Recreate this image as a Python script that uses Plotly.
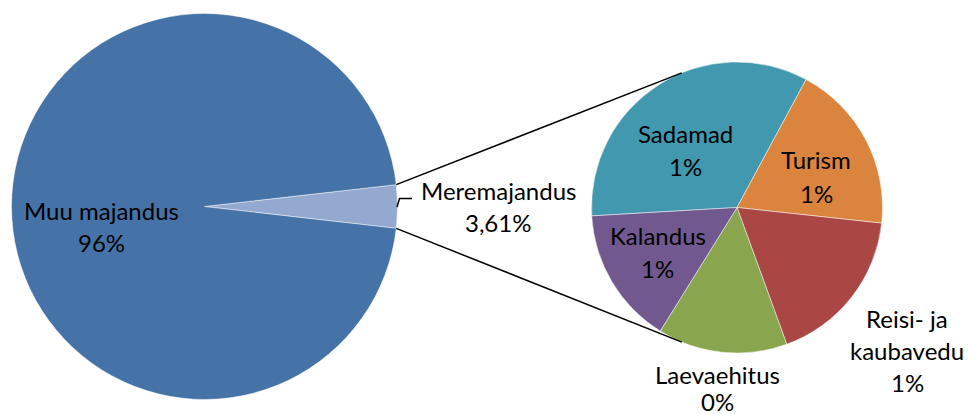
import math
import plotly.graph_objects as go

# ---- data ----
main_labels = ["Meremajandus", "Muu majandus"]
main_values = [3.61, 96.39]
main_text = ["3,61%", "96%"]

sub_labels = ["Sadamad", "Turism", "Reisi- ja<br>kaubavedu", "Laevaehitus", "Kalandus"]
sub_values = [1.22, 0.68, 0.64, 0.52, 0.55]
sub_text = ["1%", "1%", "1%", "0%", "1%"]

# ---- styles ----
main_colors = ["#93A9D0", "#4572A7"]
sub_colors = ["#4198AF", "#DB843D", "#AA4643", "#89A54E", "#71588F"]
W, H = 969, 414
FONT = "Lato"
FS = 24

# pie geometry in pixels
big_c, big_r = (204.5, 206.5), 193.0
small_c, small_r = (737.0, 207.5), 145.5

def dom(c, r):
    return dict(x=[(c[0] - r) / W, (c[0] + r) / W],
                y=[1 - (c[1] + r) / H, 1 - (c[1] - r) / H])

sea_angle = main_values[0] / sum(main_values) * 360.0
big_rot = 90 - sea_angle / 2

fig = go.Figure()
fig.add_trace(go.Pie(
    labels=main_labels, values=main_values, sort=False, direction="clockwise",
    rotation=big_rot, textinfo="none", hoverinfo="label+text", text=main_text,
    marker=dict(colors=main_colors, line=dict(color="rgba(255,255,255,0.6)", width=0.8)),
    domain=dom(big_c, big_r), showlegend=False))
fig.add_trace(go.Pie(
    labels=sub_labels, values=sub_values, sort=False, direction="clockwise",
    rotation=266.7, textinfo="none", hoverinfo="label+text", text=sub_text,
    marker=dict(colors=sub_colors, line=dict(color="rgba(255,255,255,0.6)", width=0.8)),
    domain=dom(small_c, small_r), showlegend=False))

def P(x, y):
    return x / W, 1 - y / H

# connector lines
half = math.radians(sea_angle / 2)
conn = math.radians(22.3)
shapes = []
for s in (-1, 1):
    x0 = big_c[0] + big_r * math.cos(half)
    y0 = big_c[1] + s * big_r * math.sin(half)
    x1 = small_c[0] - small_r * math.sin(conn)
    y1 = small_c[1] + s * small_r * math.cos(conn)
    a, b = P(x0, y0)
    c, d = P(x1, y1)
    shapes.append(dict(type="line", xref="paper", yref="paper", x0=a, y0=b, x1=c, y1=d,
                       line=dict(color="black", width=1.5)))
# leader for Meremajandus label
pts = [P(397, 207), P(399.5, 198.5), P(412, 198.5)]
path = "M {} {} L {} {} L {} {}".format(pts[0][0], pts[0][1], pts[1][0], pts[1][1], pts[2][0], pts[2][1])
shapes.append(dict(type="path", xref="paper", yref="paper", path=path,
                   line=dict(color="black", width=1.5)))

# label annotations: (text lines, center x px, first-line center y px, line step px)
labels = [
    (["Muu majandus", main_text[1]], 101, 210, 32),
    (["Meremajandus", main_text[0]], 498, 190, 33),
    (["Sadamad", sub_text[0]], 685.5, 133, 33),
    (["Turism", sub_text[1]], 816, 160, 33),
    (["Kalandus", sub_text[4]], 657.5, 235, 33),
    (["Reisi- ja", "kaubavedu", sub_text[2]], 907, 318, 32),
    (["Laevaehitus", sub_text[3]], 717.5, 374, 27),
]
annotations = []
for lines, cx, cy, step in labels:
    for i, t in enumerate(lines):
        x, y = P(cx, cy + i * step)
        annotations.append(dict(text=t, x=x, y=y, xref="paper", yref="paper",
                                xanchor="center", yanchor="middle", showarrow=False,
                                font=dict(family=FONT, size=FS, color="black")))

fig.update_layout(width=W, height=H, margin=dict(l=0, r=0, t=0, b=0),
                  paper_bgcolor="white", plot_bgcolor="white",
                  shapes=shapes, annotations=annotations)
fig.write_html("out.html", config={"displayModeBar": False},
               post_script="document.body.style.margin='0';")
